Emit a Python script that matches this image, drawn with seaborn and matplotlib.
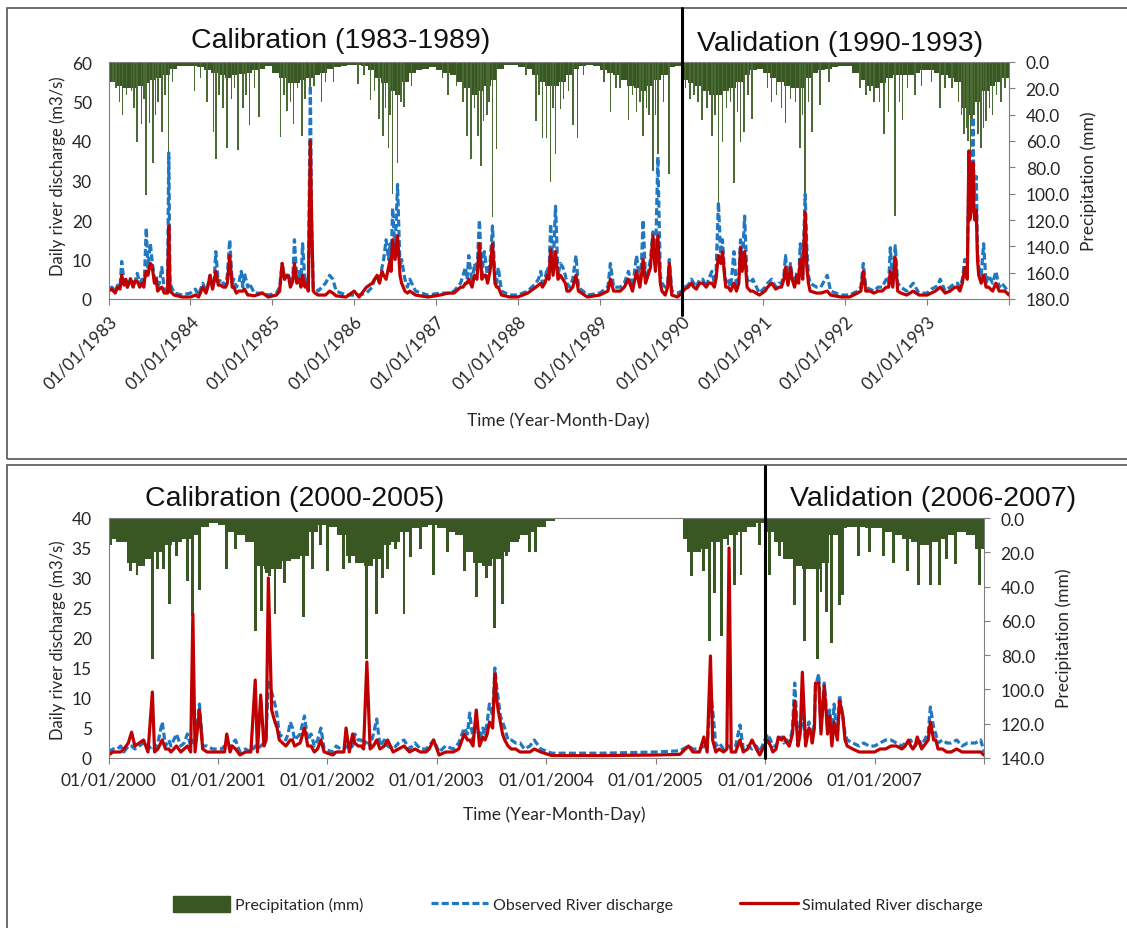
import numpy as np
import pandas as pd
import matplotlib
matplotlib.use("Agg")
import matplotlib.pyplot as plt
import matplotlib.transforms as mtransforms
from matplotlib.patches import Rectangle, Patch
from matplotlib.lines import Line2D
import seaborn as sns

# ---------------- data (time in decimal years) ----------------
# upper panel: main discharge points (m3/s), peaks and troughs
top_t = [
    1983.00, 1983.08, 1983.14, 1983.16, 1983.19, 1983.25, 1983.30, 1983.35, 1983.38, 1983.44, 1983.46, 1983.48, 1983.51, 1983.53, 1983.56, 1983.62, 1983.65, 1983.68, 1983.72, 1983.735, 1983.75, 1983.80, 1983.90,
    1984.00, 1984.06, 1984.10, 1984.15, 1984.19, 1984.24, 1984.27, 1984.31, 1984.34, 1984.40, 1984.45, 1984.48, 1984.51, 1984.56, 1984.62, 1984.66, 1984.70, 1984.72, 1984.78, 1984.88, 1984.95,
    1985.05, 1985.12, 1985.15, 1985.18, 1985.22, 1985.27, 1985.30, 1985.37, 1985.40, 1985.44, 1985.465, 1985.48, 1985.50, 1985.56, 1985.65, 1985.70, 1985.74, 1985.78, 1985.90,
    1986.00, 1986.06, 1986.15, 1986.22, 1986.28, 1986.34, 1986.39, 1986.42, 1986.47, 1986.50, 1986.53, 1986.56, 1986.62, 1986.68, 1986.75, 1986.90,
    1987.05, 1987.15, 1987.22, 1987.30, 1987.36, 1987.40, 1987.44, 1987.53, 1987.56, 1987.59, 1987.63, 1987.69, 1987.72, 1987.76, 1987.80, 1987.90,
    1988.00, 1988.12, 1988.22, 1988.28, 1988.33, 1988.40, 1988.43, 1988.46, 1988.49, 1988.55, 1988.60, 1988.67, 1988.71, 1988.74, 1988.85,
    1989.00, 1989.10, 1989.13, 1989.17, 1989.25, 1989.35, 1989.40, 1989.45, 1989.49, 1989.53, 1989.56, 1989.62, 1989.65, 1989.68, 1989.71, 1989.74, 1989.80, 1989.85, 1989.88, 1989.95,
    1990.00, 1990.08, 1990.15, 1990.22, 1990.30, 1990.37, 1990.42, 1990.45, 1990.48, 1990.50, 1990.54, 1990.60, 1990.64, 1990.67, 1990.72, 1990.74, 1990.77, 1990.80, 1990.87, 1990.95,
    1991.05, 1991.15, 1991.22, 1991.27, 1991.30, 1991.33, 1991.38, 1991.45, 1991.48, 1991.51, 1991.53, 1991.57, 1991.65, 1991.78, 1991.82, 1991.95,
    1992.05, 1992.15, 1992.22, 1992.25, 1992.35, 1992.45, 1992.55, 1992.58, 1992.61, 1992.64, 1992.75, 1992.83, 1992.90,
    1993.00, 1993.10, 1993.16, 1993.22, 1993.34, 1993.40, 1993.46, 1993.49, 1993.51, 1993.535, 1993.56, 1993.58, 1993.60, 1993.63, 1993.69, 1993.72, 1993.80, 1993.84, 1993.88, 1994.00,
]
top_obs = [
    2.5, 2.0, 3.0, 9.5, 4.0, 4.0, 3.0, 6.5, 4.0, 6.5, 18.0, 8.0, 14.0, 10.0, 5.0, 4.0, 8.0, 2.5, 2.0, 37.0, 4.0, 1.5, 1.0,
    1.5, 2.5, 1.0, 4.0, 2.0, 6.0, 3.0, 12.0, 4.0, 4.0, 6.0, 15.0, 4.0, 3.0, 7.0, 6.5, 3.0, 4.0, 1.5, 1.5, 1.0,
    1.5, 9.0, 5.0, 6.0, 4.0, 15.0, 5.0, 14.0, 4.0, 3.0, 54.0, 20.0, 3.0, 2.0, 4.0, 6.0, 5.0, 2.0, 1.0,
    1.0, 1.0, 1.5, 3.0, 6.0, 8.0, 15.0, 10.0, 23.0, 12.0, 29.0, 8.0, 5.0, 5.0, 2.0, 1.0,
    1.5, 1.5, 2.0, 4.0, 8.0, 11.0, 4.0, 20.0, 6.0, 12.0, 5.0, 18.5, 5.0, 8.0, 2.0, 1.0,
    1.0, 2.0, 4.0, 7.0, 5.0, 19.0, 8.0, 23.5, 6.0, 8.0, 4.0, 5.0, 11.0, 3.0, 1.0,
    1.5, 3.0, 9.0, 3.0, 3.0, 7.0, 3.0, 11.0, 4.0, 20.0, 5.0, 10.0, 17.0, 8.0, 36.0, 6.0, 3.0, 10.0, 2.0, 1.5,
    2.0, 3.5, 4.0, 5.0, 3.0, 7.0, 6.0, 24.5, 10.0, 15.0, 4.0, 3.0, 12.0, 3.0, 15.0, 8.0, 21.0, 5.0, 5.0, 1.5,
    4.0, 3.0, 4.0, 11.0, 4.0, 9.0, 4.0, 14.0, 6.0, 26.5, 13.0, 4.0, 3.0, 6.0, 2.0, 1.0,
    1.0, 2.0, 9.0, 3.0, 2.0, 3.0, 13.0, 4.0, 13.5, 4.0, 2.0, 4.0, 1.5,
    1.5, 3.0, 5.0, 2.0, 4.0, 3.0, 10.0, 6.0, 33.0, 24.0, 46.0, 25.0, 31.0, 8.0, 14.0, 4.0, 4.0, 7.0, 3.0, 1.5,
]
top_sim = [
    2.0, 1.5, 2.5, 6.0, 3.5, 4.0, 3.0, 4.5, 3.0, 5.0, 7.0, 6.0, 9.0, 8.5, 4.0, 2.5, 3.0, 1.5, 1.5, 18.5, 2.0, 1.0, 0.5,
    0.5, 1.0, 0.5, 3.0, 1.5, 6.0, 2.5, 7.0, 3.5, 3.0, 4.0, 11.0, 3.0, 1.5, 2.0, 2.5, 1.0, 1.0, 0.8, 1.5, 0.5,
    1.0, 9.0, 5.0, 6.0, 3.0, 9.0, 4.0, 6.0, 3.0, 2.0, 40.0, 20.0, 2.0, 1.0, 1.0, 2.0, 1.5, 0.8, 0.5,
    2.0, 0.5, 3.0, 4.0, 6.0, 7.0, 5.0, 8.0, 15.0, 10.0, 16.0, 6.0, 2.0, 2.0, 1.0, 0.5,
    1.0, 1.5, 1.5, 3.0, 4.0, 5.0, 3.0, 14.0, 5.0, 6.0, 4.0, 14.0, 4.0, 3.0, 1.0, 0.5,
    0.5, 1.5, 3.0, 4.0, 4.0, 12.5, 6.0, 12.0, 5.0, 5.0, 2.0, 3.0, 6.0, 2.0, 0.5,
    1.0, 2.0, 5.0, 2.0, 2.0, 5.0, 2.0, 7.0, 3.0, 10.0, 4.0, 8.0, 16.0, 7.0, 16.0, 4.0, 1.0, 9.0, 1.0, 0.5,
    1.5, 3.0, 3.0, 4.0, 3.0, 4.0, 5.0, 11.0, 9.0, 12.0, 3.0, 2.0, 4.0, 2.0, 13.0, 7.0, 12.0, 3.0, 2.0, 1.0,
    3.0, 2.5, 3.0, 8.0, 3.5, 8.0, 3.0, 10.0, 5.0, 22.0, 8.0, 2.0, 1.5, 2.0, 1.0, 0.5,
    0.5, 1.5, 7.0, 2.0, 1.5, 2.0, 7.0, 3.0, 10.5, 2.0, 1.0, 2.0, 1.0,
    1.0, 2.0, 3.0, 1.5, 3.0, 2.0, 8.0, 5.0, 37.5, 22.0, 34.5, 20.0, 22.5, 6.0, 6.0, 3.0, 2.0, 4.0, 2.0, 1.0,
]
# upper panel: smaller wet-season wiggles between the main points
top_minor_t = [
    1983.04, 1983.11, 1983.21, 1983.23, 1983.27, 1983.32, 1983.41, 1983.43, 1983.58, 1983.60,
    1984.21, 1984.29, 1984.37, 1984.43, 1984.53, 1984.59, 1984.64,
    1985.09, 1985.20, 1985.25, 1985.33, 1985.35, 1985.42, 1985.52,
    1986.25, 1986.31, 1986.36, 1986.44, 1986.45, 1986.51, 1986.58, 1986.65,
    1987.33, 1987.38, 1987.47, 1987.50, 1987.61, 1987.66, 1987.74,
    1988.25, 1988.30, 1988.36, 1988.38, 1988.52, 1988.58, 1988.63,
    1989.30, 1989.42, 1989.51, 1989.59, 1989.76, 1989.83,
    1990.04, 1990.12, 1990.18, 1990.26, 1990.33, 1990.40, 1990.52, 1990.57, 1990.70, 1990.84,
    1991.02, 1991.10, 1991.19, 1991.25, 1991.35, 1991.41, 1991.43, 1991.55, 1991.70,
    1992.19, 1992.30, 1992.40, 1992.50, 1992.53, 1992.68, 1992.79,
    1993.05, 1993.13, 1993.28, 1993.37, 1993.43, 1993.52, 1993.545, 1993.57, 1993.615, 1993.66, 1993.75, 1993.91, 1993.95,
]
top_minor_obs = [
    3.0, 3.5, 5.0, 3.0, 5.5, 4.0, 5.0, 3.5, 6.0, 3.0,
    3.0, 5.0, 5.0, 3.5, 5.0, 4.0, 3.0,
    3.0, 6.0, 5.0, 7.0, 4.0, 5.0, 3.0,
    5.0, 4.0, 10.0, 14.0, 8.0, 18.0, 10.0, 3.0,
    6.0, 5.0, 9.0, 7.0, 9.0, 9.0, 4.0,
    5.0, 4.0, 8.0, 6.0, 9.0, 6.0, 3.0,
    4.0, 6.0, 9.0, 7.0, 4.0, 4.0,
    3.0, 5.0, 3.0, 5.0, 5.0, 4.0, 8.0, 5.0, 6.0, 4.0,
    3.0, 5.0, 4.0, 6.0, 6.0, 7.0, 5.0, 6.0, 3.0,
    3.0, 2.5, 3.0, 5.0, 4.0, 3.0, 3.0,
    2.5, 3.5, 3.0, 4.0, 5.0, 22.0, 28.0, 30.0, 12.0, 6.0, 6.0, 4.0, 3.0,
]
top_minor_sim = [
    2.5, 3.0, 5.0, 3.0, 5.0, 4.5, 4.0, 3.0, 5.0, 2.0,
    3.0, 4.5, 3.5, 3.0, 3.0, 2.0, 2.0,
    2.0, 5.5, 4.5, 5.0, 3.0, 4.0, 1.5,
    5.0, 4.0, 6.0, 10.0, 7.0, 12.0, 4.0, 1.5,
    3.0, 4.0, 6.0, 5.0, 6.0, 7.0, 3.0,
    3.5, 3.0, 6.0, 5.0, 6.0, 4.0, 2.0,
    3.0, 4.0, 6.0, 6.0, 2.0, 3.0,
    2.5, 4.0, 2.5, 4.0, 4.0, 3.0, 7.0, 3.0, 4.0, 2.0,
    2.0, 4.0, 3.0, 5.0, 5.0, 6.0, 4.0, 4.0, 1.5,
    2.0, 2.0, 2.0, 3.0, 3.0, 1.5, 1.5,
    1.5, 2.5, 2.0, 3.0, 4.0, 20.0, 25.0, 24.0, 10.0, 4.0, 3.0, 2.0, 2.0,
]
# upper panel: monthly background rainfall depth (mm), Jan..Dec, 1983..1993
top_band = [
    15, 18, 20, 20, 18, 16, 14, 12, 10, 5, 3, 3,
    3, 4, 6, 8, 10, 12, 10, 9, 8, 6, 5, 3,
    8, 12, 16, 16, 14, 12, 10, 8, 5, 4, 3, 2,
    2, 3, 6, 12, 16, 22, 25, 15, 8, 6, 5, 4,
    6, 8, 10, 15, 20, 25, 22, 18, 14, 5, 2, 2,
    4, 5, 10, 15, 18, 18, 15, 10, 5, 3, 2, 3,
    6, 8, 10, 14, 18, 20, 22, 18, 14, 10, 4, 3,
    14, 16, 18, 22, 25, 25, 22, 20, 15, 10, 6, 5,
    8, 12, 15, 18, 20, 20, 12, 8, 6, 5, 4, 3,
    3, 8, 14, 18, 20, 16, 12, 10, 10, 10, 8, 6,
    6, 8, 10, 12, 15, 35, 40, 30, 22, 18, 15, 12,
]
# upper panel: heavy rain days (mm)
top_rain_t = [
    1983.00, 1983.05, 1983.17, 1983.22, 1983.28, 1983.35, 1983.40, 1983.46, 1983.50, 1983.54, 1983.60, 1983.65, 1983.73, 1983.78,
    1984.05, 1984.20, 1984.28, 1984.31, 1984.45, 1984.50, 1984.58, 1984.64, 1984.72, 1984.84,
    1985.10, 1985.18, 1985.26, 1985.36, 1985.46, 1985.60, 1985.65,
    1986.05, 1986.20, 1986.30, 1986.35, 1986.42, 1986.47, 1986.53, 1986.61,
    1987.15, 1987.38, 1987.43, 1987.51, 1987.55, 1987.62, 1987.69, 1987.74,
    1988.22, 1988.30, 1988.35, 1988.40, 1988.46, 1988.52, 1988.67, 1988.73,
    1989.13, 1989.25, 1989.35, 1989.45, 1989.53, 1989.60, 1989.65, 1989.71, 1989.85,
    1990.10, 1990.25, 1990.37, 1990.45, 1990.50, 1990.55, 1990.64, 1990.72, 1990.76, 1990.86,
    1991.10, 1991.27, 1991.39, 1991.45, 1991.51, 1991.59, 1991.69,
    1992.25, 1992.35, 1992.47, 1992.61, 1992.70, 1992.85,
    1993.16, 1993.30, 1993.45, 1993.50, 1993.53, 1993.58, 1993.66, 1993.72, 1993.80, 1993.90,
]
top_rain_mm = [
    26, 15, 40, 25, 22, 61, 47, 101, 46, 77, 30, 53, 71, 15,
    22, 30, 53, 74, 65, 28, 67, 35, 48, 42,
    57, 37, 47, 56, 20, 30, 15,
    17, 29, 43, 56, 65, 100, 77, 34,
    25, 56, 74, 56, 79, 40, 118, 66,
    45, 58, 58, 91, 70, 36, 48, 58,
    38, 20, 44, 38, 56, 40, 83, 70, 85,
    28, 44, 56, 107, 61, 35, 92, 61, 53, 43,
    30, 46, 30, 65, 100, 53, 33,
    25, 30, 55, 117, 44, 25,
    35, 20, 55, 60, 70, 40, 65, 45, 40, 30,
]
# upper panel: moderate rain days (mm)
top_rain2_t = [
    1983.09, 1983.13, 1983.31, 1983.43, 1983.57, 1983.69,
    1984.12, 1984.35, 1984.40, 1984.54, 1984.68, 1984.78,
    1985.14, 1985.22, 1985.31, 1985.40, 1985.51, 1985.75,
    1986.12, 1986.25, 1986.38, 1986.44, 1986.57, 1986.70,
    1987.08, 1987.25, 1987.33, 1987.47, 1987.58, 1987.65,
    1988.10, 1988.26, 1988.43, 1988.56, 1988.62, 1988.80,
    1989.05, 1989.20, 1989.40, 1989.49, 1989.57, 1989.68, 1989.78,
    1990.05, 1990.15, 1990.20, 1990.31, 1990.41, 1990.60, 1990.68, 1990.81,
    1991.05, 1991.16, 1991.22, 1991.33, 1991.48, 1991.55, 1991.80,
    1992.18, 1992.30, 1992.42, 1992.53, 1992.66, 1992.76, 1992.93,
    1993.05, 1993.22, 1993.38, 1993.42, 1993.48, 1993.55, 1993.62, 1993.69, 1993.76, 1993.85, 1993.95,
]
top_rain2_mm = [
    20, 30, 35, 28, 40, 25,
    12, 25, 35, 20, 25, 20,
    25, 30, 20, 28, 18, 15,
    10, 22, 35, 40, 30, 18,
    12, 18, 30, 35, 45, 30,
    10, 25, 35, 28, 22, 10,
    15, 20, 25, 30, 35, 40, 30,
    20, 25, 30, 35, 40, 30, 38, 25,
    20, 25, 35, 28, 40, 30, 15,
    20, 22, 30, 38, 30, 20, 18,
    15, 20, 30, 40, 50, 45, 55, 50, 35, 25, 20,
]

# lower panel: main discharge points (m3/s)
bot_t = [
    2000.00, 2000.08, 2000.14, 2000.21, 2000.24, 2000.32, 2000.36, 2000.40, 2000.42, 2000.49, 2000.52, 2000.57, 2000.62, 2000.66, 2000.72, 2000.75, 2000.77, 2000.79, 2000.83, 2000.86, 2000.95,
    2001.03, 2001.08, 2001.11, 2001.16, 2001.20, 2001.30, 2001.34, 2001.36, 2001.39, 2001.42, 2001.46, 2001.49, 2001.52, 2001.56, 2001.62, 2001.66, 2001.70, 2001.79, 2001.82, 2001.88, 2001.94, 2001.97,
    2002.05, 2002.12, 2002.17, 2002.20, 2002.23, 2002.28, 2002.33, 2002.36, 2002.39, 2002.45, 2002.48, 2002.55, 2002.60, 2002.70, 2002.75, 2002.90, 2002.97,
    2003.02, 2003.15, 2003.25, 2003.30, 2003.33, 2003.36, 2003.39, 2003.44, 2003.48, 2003.51, 2003.53, 2003.56, 2003.60, 2003.65, 2003.72, 2003.80, 2003.89, 2003.95,
    2004.05, 2004.50, 2005.00, 2005.22, 2005.30, 2005.34, 2005.44, 2005.47, 2005.50, 2005.52, 2005.55, 2005.62, 2005.65, 2005.67, 2005.69, 2005.77, 2005.80, 2005.88, 2005.95,
    2006.02, 2006.07, 2006.12, 2006.17, 2006.22, 2006.27, 2006.30, 2006.34, 2006.37, 2006.40, 2006.43, 2006.46, 2006.49, 2006.51, 2006.54, 2006.57, 2006.59, 2006.61, 2006.63, 2006.66, 2006.68, 2006.71, 2006.75, 2006.86, 2006.95,
    2007.05, 2007.15, 2007.25, 2007.31, 2007.35, 2007.39, 2007.43, 2007.51, 2007.54, 2007.58, 2007.70, 2007.80, 2007.97, 2008.00,
]
bot_obs = [
    1.0, 1.5, 1.0, 2.0, 1.5, 2.5, 1.5, 2.0, 1.5, 6.0, 2.0, 2.0, 4.0, 2.0, 4.0, 2.0, 3.0, 2.0, 9.0, 2.0, 1.5,
    1.5, 2.0, 1.5, 3.0, 1.0, 1.0, 2.0, 1.5, 2.0, 2.5, 13.0, 11.0, 9.0, 4.0, 3.0, 6.0, 3.0, 7.0, 3.0, 2.0, 5.0, 1.5,
    1.0, 1.5, 2.0, 1.5, 2.0, 3.0, 2.0, 3.0, 2.0, 6.5, 2.0, 2.0, 1.5, 3.0, 1.5, 1.5, 3.0,
    1.0, 1.5, 5.0, 7.5, 3.0, 6.0, 3.0, 4.0, 9.0, 7.0, 15.0, 10.0, 6.0, 3.0, 2.5, 1.5, 3.0, 1.5,
    0.8, 0.8, 1.0, 1.2, 2.0, 1.5, 2.0, 1.5, 11.5, 8.0, 2.0, 1.5, 2.0, 2.0, 1.5, 5.5, 1.5, 1.5, 1.0,
    4.0, 2.0, 3.0, 2.5, 2.0, 12.5, 3.0, 7.0, 3.0, 6.0, 3.0, 12.0, 14.0, 5.0, 12.5, 5.0, 8.0, 3.0, 9.0, 4.0, 10.5, 7.0, 3.0, 2.0, 2.0,
    2.5, 3.0, 2.0, 2.5, 2.0, 2.5, 2.0, 8.5, 5.0, 2.5, 2.5, 2.0, 3.0, 1.0,
]
bot_sim = [
    0.5, 1.0, 1.5, 4.3, 2.0, 3.0, 1.0, 11.0, 1.0, 3.0, 1.5, 1.0, 2.0, 1.0, 2.0, 1.0, 24.0, 1.0, 8.0, 1.5, 1.0,
    1.0, 4.0, 1.0, 1.5, 0.5, 1.0, 13.0, 1.0, 10.5, 2.0, 30.0, 8.0, 6.0, 3.0, 2.0, 3.0, 2.0, 5.0, 2.0, 1.0, 3.0, 1.0,
    0.5, 1.0, 5.0, 1.0, 4.0, 2.0, 1.5, 16.0, 1.5, 3.0, 1.5, 3.0, 1.0, 2.0, 1.0, 1.0, 3.0,
    0.5, 1.0, 4.0, 3.0, 2.0, 8.0, 2.0, 3.0, 6.0, 5.0, 14.0, 8.0, 4.0, 2.0, 1.5, 1.0, 1.5, 1.0,
    0.4, 0.4, 0.5, 0.6, 2.0, 1.0, 3.5, 1.0, 17.0, 3.0, 1.0, 1.0, 1.5, 35.0, 1.0, 3.0, 1.0, 3.0, 0.5,
    3.0, 1.0, 3.5, 3.5, 2.0, 9.5, 2.0, 14.3, 2.0, 5.0, 2.5, 12.5, 12.5, 4.0, 12.0, 4.0, 7.0, 2.0, 6.0, 3.0, 9.5, 7.0, 2.0, 1.0, 1.0,
    1.5, 2.0, 1.5, 3.0, 1.5, 3.5, 1.5, 6.0, 3.0, 1.5, 1.0, 1.0, 1.0, 0.5,
]
# lower panel: smaller wet-season wiggles
bot_minor_t = [
    2000.04, 2000.11, 2000.18, 2000.28, 2000.45, 2000.55, 2000.69, 2000.90,
    2001.06, 2001.13, 2001.25, 2001.44, 2001.54, 2001.59, 2001.64, 2001.68, 2001.75, 2001.85, 2001.91,
    2002.08, 2002.15, 2002.25, 2002.31, 2002.42, 2002.52, 2002.65, 2002.80, 2002.85, 2002.93,
    2003.08, 2003.20, 2003.28, 2003.42, 2003.46, 2003.545, 2003.58, 2003.62, 2003.68, 2003.76, 2003.85,
    2005.40, 2005.58, 2005.73, 2005.84, 2005.92,
    2006.05, 2006.10, 2006.15, 2006.20, 2006.25, 2006.32, 2006.39, 2006.42, 2006.45, 2006.56, 2006.65, 2006.73, 2006.80, 2006.90,
    2007.00, 2007.10, 2007.20, 2007.28, 2007.33, 2007.37, 2007.41, 2007.47, 2007.49, 2007.56, 2007.62, 2007.66, 2007.75, 2007.85, 2007.92,
]
bot_minor_obs = [
    1.5, 2.0, 2.0, 2.0, 2.5, 3.0, 2.5, 2.0,
    2.0, 2.5, 1.5, 4.0, 7.0, 3.5, 4.0, 5.0, 4.0, 4.0, 3.0,
    2.0, 1.5, 4.0, 3.0, 4.0, 3.0, 2.5, 2.5, 1.5, 2.0,
    2.0, 2.5, 4.0, 5.0, 6.0, 12.0, 7.0, 5.0, 3.0, 2.5, 2.0,
    1.5, 2.5, 2.0, 2.0, 2.0,
    3.0, 2.0, 3.5, 3.0, 5.0, 5.0, 5.0, 4.0, 6.0, 8.0, 5.0, 4.0, 2.5, 2.5,
    2.0, 3.0, 2.5, 2.5, 3.0, 2.0, 3.0, 3.5, 4.0, 4.0, 3.0, 2.5, 3.0, 2.5, 2.5,
]
bot_minor_sim = [
    1.0, 1.0, 2.5, 2.5, 1.5, 1.5, 1.5, 1.0,
    1.0, 2.0, 1.0, 3.0, 5.0, 2.5, 2.5, 3.0, 2.5, 2.0, 1.5,
    1.0, 1.0, 2.5, 2.0, 2.0, 2.0, 1.5, 1.5, 1.0, 1.5,
    1.0, 1.5, 3.0, 3.5, 4.0, 10.0, 6.0, 3.0, 1.5, 1.0, 1.0,
    1.0, 1.5, 1.0, 1.5, 1.5,
    2.0, 1.5, 3.0, 2.5, 4.0, 4.0, 4.0, 4.0, 5.0, 7.0, 4.0, 3.0, 1.5, 1.0,
    1.0, 1.5, 2.0, 2.0, 2.0, 2.0, 2.5, 2.5, 3.0, 3.0, 1.5, 1.0, 1.5, 1.0, 1.0,
]
# lower panel: monthly background rainfall depth (mm), Jan..Dec, 2000..2007
bot_band = [
    12, 14, 26, 28, 24, 20, 16, 14, 12, 10, 5, 3,
    4, 8, 10, 14, 28, 30, 30, 25, 24, 22, 8, 4,
    5, 10, 22, 26, 28, 24, 16, 14, 8, 6, 5, 4,
    6, 8, 10, 20, 26, 28, 24, 20, 14, 10, 8, 5,
    2, 0, 0, 0, 0, 0, 0, 0, 0, 0, 0, 0,
    0, 0, 0, 12, 20, 18, 14, 12, 10, 8, 5, 3,
    8, 14, 24, 28, 30, 30, 26, 10, 6, 5, 5, 6,
    6, 8, 10, 12, 14, 16, 14, 12, 10, 8, 10, 18,
]
bot_rain_t = [
    2000.02, 2000.08, 2000.20, 2000.26, 2000.31, 2000.40, 2000.45, 2000.50, 2000.56, 2000.62, 2000.72, 2000.77, 2000.83,
    2001.08, 2001.16, 2001.34, 2001.40, 2001.44, 2001.47, 2001.52, 2001.61, 2001.70, 2001.78, 2001.86, 2001.94,
    2002.00, 2002.15, 2002.20, 2002.36, 2002.45, 2002.50, 2002.55, 2002.62, 2002.70, 2002.76, 2002.85, 2002.97,
    2003.10, 2003.25, 2003.36, 2003.40, 2003.45, 2003.53, 2003.60, 2003.64, 2003.75, 2003.85, 2003.90,
    2005.30, 2005.33, 2005.44, 2005.49, 2005.54, 2005.60, 2005.66, 2005.72, 2005.78, 2005.95,
    2006.04, 2006.13, 2006.21, 2006.27, 2006.36, 2006.39, 2006.42, 2006.48, 2006.51, 2006.56, 2006.61, 2006.68, 2006.71, 2006.85, 2006.95,
    2007.08, 2007.17, 2007.30, 2007.40, 2007.51, 2007.59, 2007.66, 2007.74, 2007.96,
]
bot_rain_mm = [
    16, 14, 31, 33, 22, 82, 30, 30, 50, 22, 37, 57, 42,
    30, 18, 66, 54, 32, 34, 56, 38, 22, 58, 30, 16,
    31, 30, 26, 82, 56, 35, 30, 18, 56, 23, 18, 33,
    20, 31, 46, 22, 35, 64, 50, 22, 12, 20, 20,
    20, 34, 31, 72, 44, 69, 16, 39, 33, 16,
    33, 22, 22, 51, 72, 26, 23, 82, 43, 55, 73, 51, 45, 22, 20,
    22, 26, 31, 39, 39, 39, 24, 27, 39,
]

assert len(top_t) == len(top_obs) == len(top_sim)
assert len(top_minor_t) == len(top_minor_obs) == len(top_minor_sim)
assert len(bot_t) == len(bot_obs) == len(bot_sim)
assert len(bot_minor_t) == len(bot_minor_obs) == len(bot_minor_sim)
assert len(top_rain_t) == len(top_rain_mm) and len(bot_rain_t) == len(bot_rain_mm)
assert len(top_rain2_t) == len(top_rain2_mm)

GREEN = "#385723"
GREEN_THIN = "#4a6b35"
BLUE = "#1f78c1"
RED = "#c00000"
GREY = "#7f7f7f"
W, H = 1127, 929


def rect(x0, y0, x1, y1):
    # pixel box of the reference -> figure fraction
    return [x0 / W, 1 - y1 / H, (x1 - x0) / W, (y1 - y0) / H]


sns.set_theme(style="white")
plt.rcParams["font.family"] = ["Lato", "DejaVu Sans"]
plt.rcParams["text.color"] = "#262626"

fig = plt.figure(figsize=(W / 100, H / 100), dpi=100)

# outer frames of the two panels
for (x0, y0, x1, y1) in [(7, 9, 1140, 460), (7, 466, 1140, 940)]:
    fig.add_artist(Rectangle((x0 / W, 1 - y1 / H), (x1 - x0) / W, (y1 - y0) / H,
                             transform=fig.transFigure, fill=False,
                             edgecolor="#555555", linewidth=1.2))


def panel(box, flow, band, y0, rains, years, qmax, qstep, pmax, split, line_px, rotate):
    ax = fig.add_axes(rect(*box))
    ax2 = ax.twinx()

    band_x = [y0 + (i + 0.5) / 12 for i in range(len(band))]
    ax2.bar(band_x, band, width=1 / 12, color=GREEN, linewidth=0)
    for rt, rmm, rw, rc in rains:
        ax2.bar(rt, rmm, width=rw, color=rc, linewidth=0)
    ax2.set_ylim(pmax, 0)
    pt = np.arange(0, pmax + 1, 20)
    ax2.set_yticks(pt)
    ax2.set_yticklabels([f"{v:.1f}" for v in pt])
    ax2.tick_params(axis="y", direction="out", length=4, width=0.8, color=GREY,
                    labelsize=12.5, pad=8, right=True)

    sns.lineplot(data=flow, x="t", y="obs", ax=ax, color=BLUE, linewidth=2.3,
                 linestyle=(0, (2.2, 1.0)))
    sns.lineplot(data=flow, x="t", y="sim", ax=ax, color=RED, linewidth=2.3)
    ax.set_zorder(ax2.get_zorder() + 1)
    ax.patch.set_visible(False)

    ax.set_xlim(years[0], years[-1])
    ax.set_ylim(0, qmax)
    ax.set_yticks(np.arange(0, qmax + 1, qstep))
    ax.tick_params(axis="y", length=0, labelsize=12.5, pad=12)
    ax.set_xticks(years)
    labels = [f"01/01/{y}" for y in years[:-1]] + [""]
    if rotate:
        ax.set_xticklabels(labels, rotation=45, ha="right", rotation_mode="anchor")
    else:
        ax.set_xticklabels(labels)
    ax.tick_params(axis="x", direction="out", length=4, width=0.8, color=GREY,
                   labelsize=12.5, pad=6, bottom=True)
    ax.set_xlabel("")
    ax.set_ylabel("")

    for s in ["left", "bottom", "top"]:
        ax.spines[s].set_color(GREY)
        ax.spines[s].set_linewidth(0.8)
    ax.spines["right"].set_visible(False)
    for s in ["left", "bottom", "top"]:
        ax2.spines[s].set_visible(False)
    ax2.spines["right"].set_color(GREY)
    ax2.spines["right"].set_linewidth(0.8)
    ax.grid(False)
    ax2.grid(False)

    # calibration / validation divider (pixel extent above / below the plot)
    hpx = box[3] - box[1]
    trans = mtransforms.blended_transform_factory(ax.transData, ax.transAxes)
    ax.plot([split, split], [1 + line_px[0] / hpx, -line_px[1] / hpx], transform=trans,
            color="black", linewidth=2.2, clip_on=False, zorder=10)
    return ax, ax2


top_flow = pd.DataFrame({"t": top_t + top_minor_t, "obs": top_obs + top_minor_obs,
                         "sim": top_sim + top_minor_sim}).sort_values("t")
bot_flow = pd.DataFrame({"t": bot_t + bot_minor_t, "obs": bot_obs + bot_minor_obs,
                         "sim": bot_sim + bot_minor_sim}).sort_values("t")

panel((108.6, 63, 1009, 300), top_flow, top_band, 1983,
      [(top_rain_t, top_rain_mm, 0.02, GREEN_THIN), (top_rain2_t, top_rain2_mm, 0.018, GREEN_THIN)],
      list(range(1983, 1995)), 60, 10, 180, 1990, (54, 16), True)
panel((108.6, 519, 984, 759), bot_flow, bot_band, 2000,
      [(bot_rain_t, bot_rain_mm, 0.026, GREEN)],
      list(range(2000, 2009)), 40, 5, 140, 2006, (52, 0), False)

# panel titles
title_font = dict(family=["Liberation Sans", "DejaVu Sans"], fontsize=20.5, va="baseline",
                  ha="left", color="#111111")
fig.text(190.7 / W, 1 - 48 / H, "Calibration (1983-1989)", **title_font)
fig.text(696.7 / W, 1 - 51 / H, "Validation (1990-1993)", **title_font)
fig.text(145 / W, 1 - 506 / H, "Calibration (2000-2005)", **title_font)
fig.text(790 / W, 1 - 506 / H, "Validation (2006-2007)", **title_font)

# axis titles
lab = dict(fontsize=12.5, ha="center", va="center")
fig.text(558 / W, 1 - 421 / H, "Time (Year-Month-Day)", **lab)
fig.text(554 / W, 1 - 815 / H, "Time (Year-Month-Day)", **lab)
fig.text(58 / W, 1 - 176 / H, "Daily river discharge (m3/s)", rotation=90,
         fontsize=12, ha="center", va="center")
fig.text(58 / W, 1 - 640 / H, "Daily river discharge (m3/s)", rotation=90,
         fontsize=12, ha="center", va="center")
fig.text(1089 / W, 1 - 181 / H, "Precipitation (mm)", rotation=90, **lab)
fig.text(1064 / W, 1 - 638 / H, "Precipitation (mm)", rotation=90, **lab)

# legend
handles = [
    Patch(facecolor=GREEN, edgecolor=GREEN, label="Precipitation (mm)"),
    Line2D([0], [0], color=BLUE, linewidth=2.3, linestyle=(0, (2.2, 1.0)),
           label="Observed River discharge"),
    Line2D([0], [0], color=RED, linewidth=2.3, label="Simulated River discharge"),
]
fig.legend(handles=handles, loc="center", bbox_to_anchor=(578 / W, 1 - 905 / H), ncol=3,
           frameon=False, fontsize=11.5, handlelength=3.6, handleheight=1.2,
           handletextpad=0.3, columnspacing=4.2)

fig.savefig("out.png", dpi=100)
